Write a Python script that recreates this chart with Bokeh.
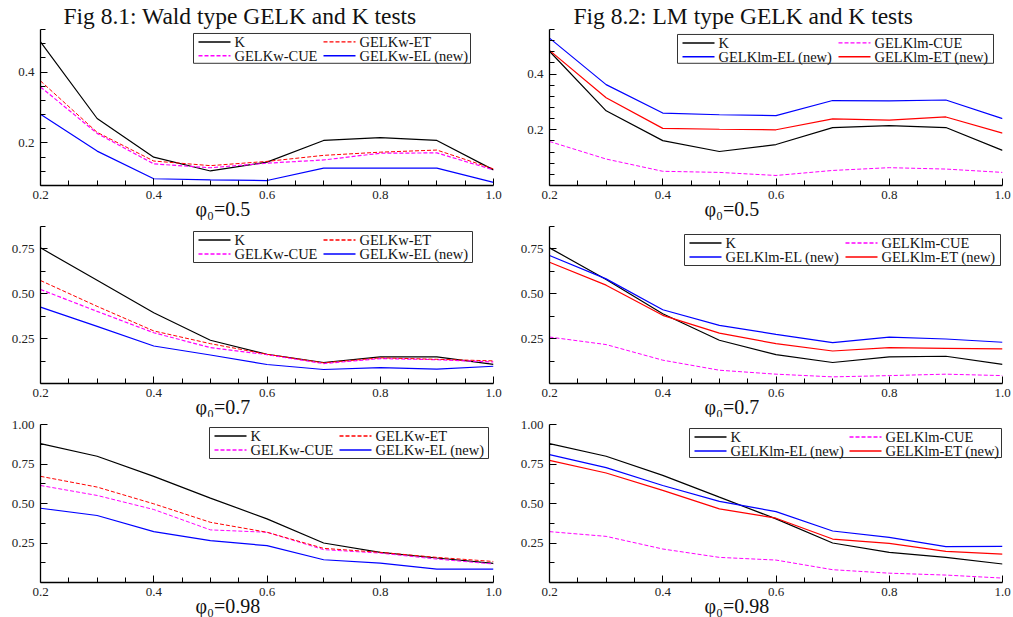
from bokeh.plotting import figure
from bokeh.models import (Range1d, FixedTicker, Title, PrintfTickFormatter)
from bokeh.core.properties import value
from bokeh.layouts import column, row
from bokeh.embed import file_html
from bokeh.resources import INLINE

# ---------------- data ----------------
x_vals = [0.2, 0.3, 0.4, 0.5, 0.6, 0.7, 0.8, 0.9, 1.0]

wald05_K   = [0.485, 0.269, 0.160, 0.121, 0.146, 0.207, 0.215, 0.207, 0.124]
wald05_ET  = [0.375, 0.230, 0.149, 0.136, 0.148, 0.165, 0.174, 0.180, 0.127]
wald05_CUE = [0.358, 0.227, 0.141, 0.130, 0.143, 0.152, 0.171, 0.172, 0.124]
wald05_EL  = [0.281, 0.177, 0.099, 0.096, 0.094, 0.129, 0.129, 0.129, 0.089]

lm05_K   = [0.482, 0.268, 0.161, 0.122, 0.147, 0.208, 0.215, 0.208, 0.126]
lm05_CUE = [0.158, 0.095, 0.051, 0.047, 0.036, 0.054, 0.064, 0.059, 0.047]
lm05_EL  = [0.529, 0.362, 0.260, 0.254, 0.251, 0.305, 0.304, 0.307, 0.240]
lm05_ET  = [0.485, 0.315, 0.205, 0.202, 0.200, 0.239, 0.235, 0.246, 0.188]

wald07_K   = [0.756, 0.575, 0.394, 0.241, 0.163, 0.117, 0.148, 0.148, 0.107]
wald07_ET  = [0.574, 0.430, 0.293, 0.222, 0.163, 0.115, 0.143, 0.135, 0.126]
wald07_CUE = [0.524, 0.402, 0.283, 0.200, 0.161, 0.111, 0.139, 0.133, 0.120]
wald07_EL  = [0.426, 0.318, 0.209, 0.159, 0.106, 0.078, 0.089, 0.080, 0.096]

lm07_K   = [0.756, 0.580, 0.389, 0.241, 0.161, 0.117, 0.148, 0.152, 0.107]
lm07_CUE = [0.259, 0.217, 0.130, 0.074, 0.052, 0.037, 0.044, 0.052, 0.044]
lm07_EL  = [0.713, 0.583, 0.411, 0.324, 0.274, 0.228, 0.259, 0.248, 0.230]
lm07_ET  = [0.676, 0.548, 0.380, 0.281, 0.222, 0.181, 0.200, 0.196, 0.193]

wald098_K   = [0.879, 0.799, 0.672, 0.534, 0.403, 0.250, 0.191, 0.155, 0.121]
wald098_ET  = [0.672, 0.604, 0.498, 0.381, 0.318, 0.216, 0.191, 0.159, 0.133]
wald098_CUE = [0.614, 0.551, 0.462, 0.333, 0.318, 0.208, 0.186, 0.148, 0.117]
wald098_EL  = [0.470, 0.424, 0.322, 0.265, 0.233, 0.144, 0.123, 0.085, 0.085]

lm098_K   = [0.879, 0.799, 0.678, 0.540, 0.403, 0.250, 0.191, 0.159, 0.117]
lm098_CUE = [0.322, 0.292, 0.212, 0.159, 0.142, 0.081, 0.059, 0.047, 0.028]
lm098_EL  = [0.809, 0.727, 0.614, 0.513, 0.449, 0.326, 0.286, 0.227, 0.229]
lm098_ET  = [0.773, 0.693, 0.583, 0.466, 0.407, 0.275, 0.248, 0.197, 0.180]

x_major = [0.2, 0.4, 0.6, 0.8, 1.0]
x_minor = [0.25, 0.3, 0.35, 0.45, 0.5, 0.55, 0.65, 0.7, 0.75, 0.85, 0.9, 0.95]

y_top_major = [0.2, 0.4]
y_top_minor_w = [0.08, 0.12, 0.16, 0.24, 0.28, 0.32, 0.36, 0.44, 0.48, 0.52]
y_top_minor_l = [0.04, 0.08, 0.12, 0.16, 0.24, 0.28, 0.32, 0.36, 0.44, 0.48, 0.52, 0.56]
y_mid_major = [0.25, 0.5, 0.75]
y_mid_minor = [0.125, 0.375, 0.625, 0.875]
y_bot_major = [0.25, 0.5, 0.75, 1.0]
y_bot_minor = [0.125, 0.375, 0.625, 0.875]

titles = ["Fig 8.1: Wald type GELK and K tests", "Fig 8.2: LM  type GELK and K tests"]
phi_labels = ["φ₀=0.5", "φ₀=0.7", "φ₀=0.98"]

FONT = "Liberation Serif"
BLACK = "#000000"
RED = "#ff0000"
MAG = "#ff00ff"
BLUE = "#0000ff"
FRAME_W = 453


def make_fig(width, height, bl, br, bt, bb, yr, ymaj, ymin, yfmt):
    p = figure(width=width, height=height, output_backend="svg",
               toolbar_location=None, x_range=Range1d(0.2, 1.0),
               y_range=Range1d(*yr), min_border_left=bl,
               min_border_right=br, min_border_top=bt, min_border_bottom=bb)
    p.outline_line_color = None
    p.grid.visible = False
    p.xaxis.ticker = FixedTicker(ticks=x_major, minor_ticks=x_minor)
    p.yaxis.ticker = FixedTicker(ticks=ymaj, minor_ticks=ymin)
    p.xaxis.formatter = PrintfTickFormatter(format="%.1f")
    p.yaxis.formatter = PrintfTickFormatter(format=yfmt)
    for ax in (p.xaxis, p.yaxis):
        ax.axis_line_color = BLACK
        ax.axis_line_width = 1.3
        ax.major_tick_in = 7
        ax.major_tick_out = 0
        ax.minor_tick_in = 5
        ax.minor_tick_out = 0
        ax.major_tick_line_color = BLACK
        ax.minor_tick_line_color = BLACK
        ax.major_label_text_font = FONT
        ax.major_label_text_font_size = "13px"
        ax.major_label_text_color = "#222222"
    p.xaxis.major_label_standoff = 5
    p.yaxis.major_label_standoff = 6
    return p


def add_lines(p, specs, yr, frame_h, box, col2_x):
    """Data lines plus a two-column legend box.
    box = (left, right, bottom, top) in px from the frame's bottom-left."""
    y0, y1 = yr
    fx = lambda px: 0.2 + px * 0.8 / FRAME_W
    fy = lambda px: y0 + px * (y1 - y0) / frame_h
    for label, ys, color, dash, lw in specs:
        p.line(x_vals, ys, line_color=color, line_width=lw, line_dash=dash)
    l, r, b, t = box
    p.quad(left=[fx(l)], right=[fx(r)], bottom=[fy(b)], top=[fy(t)],
           fill_color="white", line_color="#333333", line_width=1)
    rows_y = [t - 8.5, t - 22.5]
    cols_x = [l + 5, col2_x]
    for i, (label, ys, color, dash, lw) in enumerate(specs):
        gx = cols_x[i // 2]
        gy = rows_y[i % 2]
        p.line([fx(gx), fx(gx + 32)], [fy(gy), fy(gy)], line_color=color,
               line_width=lw + 0.3, line_dash=dash)
        p.text([fx(gx + 36)], [fy(gy)], text=[label], text_font=value(FONT),
               text_font_size="14.5px", text_baseline="middle",
               text_align="left", text_color="#111111")


def set_title(p, text, offset):
    p.title.text = text
    p.title.align = "left"
    p.title.offset = offset
    p.title.text_font = FONT
    p.title.text_font_size = "23.5px"
    p.title.text_font_style = "normal"
    p.title.text_color = "#111111"
    p.title.standoff = 1


def add_phi(p, text):
    p.add_layout(Title(text=text, align="left", offset=155, text_font=FONT,
                       text_font_size="20px", text_font_style="normal",
                       text_color="#111111", standoff=-11), "below")


LW = 1.2
DASH = "4 2"

# row heights: row1 0..220, row2 220..417, row3 417..617
yr1 = (0.08, 0.52)
p1 = make_fig(505, 220, 40, 12, 28, 35, yr1, y_top_major, y_top_minor_w, "%.1f")
add_lines(p1, [("K", wald05_K, BLACK, "solid", LW),
               ("GELKw-CUE", wald05_CUE, MAG, DASH, LW),
               ("GELKw-ET", wald05_ET, RED, DASH, 1.0),
               ("GELKw-EL (new)", wald05_EL, BLUE, "solid", LW)],
          yr1, 157, (153, 430, 123, 153), 283)
set_title(p1, titles[0], 23)
add_phi(p1, phi_labels[0])

yr2 = (0.0, 0.56)
p2 = make_fig(508, 220, 44, 11, 28, 35, yr2, y_top_major, y_top_minor_l, "%.1f")
add_lines(p2, [("K", lm05_K, BLACK, "solid", LW),
               ("GELKlm-EL (new)", lm05_EL, BLUE, "solid", LW),
               ("GELKlm-CUE", lm05_CUE, MAG, DASH, 1.0),
               ("GELKlm-ET (new)", lm05_ET, RED, "solid", LW)],
          yr2, 157, (128, 444, 123, 152), 289)
set_title(p2, titles[1], 24)
add_phi(p2, phi_labels[0])

yr3 = (0.0, 0.875)
p3 = make_fig(505, 197, 40, 12, 6, 34, yr3, y_mid_major, y_mid_minor, "%.2f")
add_lines(p3, [("K", wald07_K, BLACK, "solid", LW),
               ("GELKw-CUE", wald07_CUE, MAG, DASH, LW),
               ("GELKw-ET", wald07_ET, RED, DASH, 1.0),
               ("GELKw-EL (new)", wald07_EL, BLUE, "solid", LW)],
          yr3, 157, (153, 432, 121, 152), 283)
add_phi(p3, phi_labels[1])

p4 = make_fig(508, 197, 44, 11, 6, 34, yr3, y_mid_major, y_mid_minor, "%.2f")
add_lines(p4, [("K", lm07_K, BLACK, "solid", LW),
               ("GELKlm-EL (new)", lm07_EL, BLUE, "solid", LW),
               ("GELKlm-CUE", lm07_CUE, MAG, DASH, 1.0),
               ("GELKlm-ET (new)", lm07_ET, RED, "solid", LW)],
          yr3, 157, (135, 451, 118, 149), 296)
add_phi(p4, phi_labels[1])

yr5 = (0.0, 1.0)
p5 = make_fig(505, 200, 40, 12, 7, 35, yr5, y_bot_major, y_bot_minor, "%.2f")
add_lines(p5, [("K", wald098_K, BLACK, "solid", LW),
               ("GELKw-CUE", wald098_CUE, MAG, DASH, 1.0),
               ("GELKw-ET", wald098_ET, RED, DASH, 1.0),
               ("GELKw-EL (new)", wald098_EL, BLUE, "solid", LW)],
          yr5, 158, (169, 448, 124, 155), 299)
add_phi(p5, phi_labels[2])

p6 = make_fig(508, 200, 44, 11, 7, 35, yr5, y_bot_major, y_bot_minor, "%.2f")
add_lines(p6, [("K", lm098_K, BLACK, "solid", LW),
               ("GELKlm-EL (new)", lm098_EL, BLUE, "solid", LW),
               ("GELKlm-CUE", lm098_CUE, MAG, DASH, 1.0),
               ("GELKlm-ET (new)", lm098_ET, RED, "solid", LW)],
          yr5, 158, (140, 452, 125, 154), 300)
add_phi(p6, phi_labels[2])

layout = column(row(p1, p2), row(p3, p4), row(p5, p6))
open("out.html", "w").write(file_html(layout, INLINE))
